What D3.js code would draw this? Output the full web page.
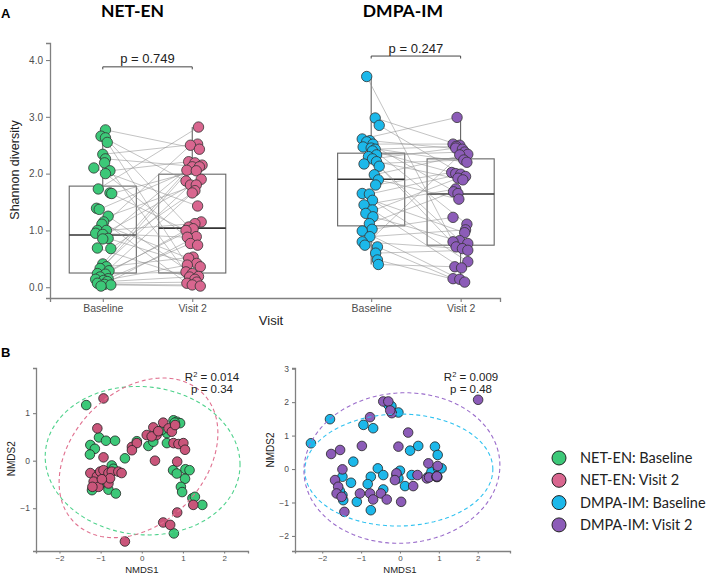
<!DOCTYPE html>
<html>
<head>
<meta charset="utf-8">
<script src="https://cdn.jsdelivr.net/npm/d3@7"></script>
<style>
  body { margin: 0; background: #fff; }
  svg { display: block; }
  .tick text { fill: #4d4d4d; }
</style>
</head>
<body>
<script>
// ---------------- DATA ----------------
const groups = ["NET-EN", "DMPA-IM"];
const visits = ["Baseline", "Visit 2"];
const pValues = ["p = 0.749", "p = 0.247"];
const shannonTicks = [0, 1, 2, 3, 4];

// Shannon diversity values (panel A) and read-off horizontal jitter (category units)
const netBaseShannon = [2.77,2.66,2.63,2.55,2.34,2.26,2.19,2.10,2.05,2.00,1.73,1.66,1.65,1.39,1.37,1.25,1.15,1.11,1.00,1.00,0.95,0.93,0.86,0.85,0.69,0.68,0.41,0.36,0.33,0.29,0.24,0.23,0.18,0.15,0.14,0.12,0.10,0.07,0.05,0.04,0.02];
const netBaseJitter  = [0.03,-0.02,0.03,0.05,0.0,0.03,0.02,-0.10,0.08,0.03,-0.05,0.08,0.10,-0.07,-0.04,0.06,0.01,-0.01,-0.06,0.04,-0.08,0.0,0.06,0.0,-0.06,0.09,0.0,0.04,-0.03,0.07,-0.06,0.03,-0.03,0.06,-0.08,0.01,0.05,-0.06,0.02,0.09,-0.02];
const netV2Shannon   = [2.82,2.52,2.50,2.43,2.21,2.19,2.15,2.12,2.12,2.06,2.05,1.90,1.87,1.80,1.80,1.70,1.66,1.43,1.15,1.12,1.06,1.03,1.00,0.89,0.88,0.77,0.74,0.53,0.51,0.42,0.39,0.36,0.27,0.24,0.19,0.18,0.14,0.09,0.07,0.04,0.02];
const netV2Jitter    = [0.07,0.06,-0.02,0.08,-0.04,0.03,0.11,0.0,0.08,-0.06,0.045,0.10,-0.07,-0.02,0.045,0.03,0.0,0.06,0.10,0.03,-0.04,0.01,-0.07,0.045,-0.055,-0.02,0.06,0.01,-0.04,0.05,-0.055,0.09,-0.07,0.0,0.07,-0.03,0.03,0.05,-0.06,0.0,0.09];
const netPair = [3,12,20,30,1,8,35,17,4,26,0,22,10,33,6,14,38,28,2,19,24,11,31,5,36,16,9,27,13,21,7,32,15,25,18,29,34,37,39,40,23];

const dmpaBaseShannon = [3.71,2.98,2.85,2.61,2.58,2.56,2.52,2.47,2.45,2.43,2.40,2.33,2.30,2.26,2.21,2.17,2.13,1.98,1.89,1.80,1.65,1.64,1.53,1.45,1.36,1.30,1.24,1.12,1.02,0.99,0.89,0.80,0.74,0.71,0.60,0.48,0.40];
const dmpaBaseJitter  = [-0.05,0.045,0.09,-0.10,-0.015,-0.05,0.02,-0.09,0.0,0.045,0.015,0.06,-0.03,0.015,0.06,-0.08,0.09,0.035,0.08,0.05,-0.10,-0.02,0.015,-0.08,0.015,-0.06,0.02,-0.02,0.01,-0.10,-0.015,-0.10,-0.07,0.07,0.05,0.07,0.08];
const dmpaV2Shannon   = [2.99,2.52,2.50,2.48,2.45,2.43,2.38,2.34,2.33,2.24,2.20,2.02,2.00,1.99,1.95,1.92,1.89,1.73,1.68,1.65,1.55,1.23,1.11,1.01,0.96,0.82,0.80,0.77,0.71,0.68,0.65,0.45,0.36,0.34,0.15,0.14,0.09];
const dmpaV2Jitter    = [-0.04,-0.085,-0.01,-0.05,-0.055,0.02,0.045,0.08,-0.01,0.035,0.07,-0.10,-0.055,0.0,0.055,-0.03,0.025,-0.055,-0.08,-0.03,-0.02,-0.085,0.07,0.055,0.045,-0.01,-0.085,0.08,-0.05,0.02,0.08,0.08,-0.065,0.01,-0.085,-0.01,0.045];
const dmpaPair = [26,2,14,0,5,19,1,10,22,3,12,6,25,4,16,9,28,7,20,11,31,13,24,17,33,15,27,18,21,35,23,29,8,34,30,36,32];

// Box statistics: NET Baseline, NET Visit 2, DMPA Baseline, DMPA Visit 2
const boxLow    = [0.02, 0.02, 0.40, 0.09];
const boxQ1     = [0.25, 0.25, 1.08, 0.74];
const boxMedian = [0.92, 1.04, 1.90, 1.64];
const boxQ3     = [1.78, 1.99, 2.36, 2.26];
const boxHigh   = [2.77, 2.82, 3.71, 2.99];
const bracketLevel = [3.88, 4.07];

// NMDS ordination (panel B)  [NMDS1, NMDS2]
const nmdsNetBase = [[-1.35,1.17],[-1.25,0.33],[-1.14,0.25],[-1.26,0.13],[-1.04,0.49],[-0.87,0.42],[-0.65,0.42],[-0.41,0.05],[-0.12,0.41],[0.16,0.31],[-0.73,-0.10],[-0.69,-0.17],[-1.21,-0.62],[-1.01,-0.50],[-0.81,-0.61],[-0.63,-0.69],[-0.93,-0.30],[0.61,0.58],[0.77,0.85],[0.85,0.82],[0.93,0.79],[0.61,0.37],[0.76,-0.20],[0.85,-0.27],[1.06,-0.18],[1.16,-0.20],[1.05,-0.38],[0.95,-0.55],[0.98,-0.66],[1.23,-0.79],[1.29,-0.76],[1.47,-0.93],[0.78,-1.53],[0.49,0.65],[0.28,0.40],[0.80,0.80],[-0.93,-0.44],[-1.10,-0.30]];
const nmdsNetV2   = [[-0.93,1.31],[-1.08,0.68],[-0.93,0.07],[-0.41,-1.70],[0.32,0.0],[0.86,-0.02],[0.86,-1.09],[0.52,-1.30],[0.69,-1.35],[1.25,-0.93],[0.77,0.37],[0.89,0.35],[1.01,0.37],[1.05,0.23],[0.12,0.54],[0.28,0.70],[0.36,0.54],[0.52,0.80],[0.65,0.68],[0.24,0.51],[0.73,0.61],[0.81,0.75],[-0.24,0.29],[-0.12,0.37],[-0.24,0.22],[-1.25,-0.26],[-1.09,-0.33],[-1.17,-0.44],[-1.01,-0.23],[-0.93,-0.20],[-0.81,-0.26],[-0.73,-0.23],[-0.57,-0.23],[-0.49,-0.26],[-0.81,-0.48],[-1.05,-0.55],[-0.77,-0.37],[-0.97,-0.39],[0.40,0.62],[-1.20,-0.55]];
const nmdsDmpaBase = [[-2.29,0.77],[-1.80,1.49],[-0.94,1.32],[-0.69,1.22],[-0.04,1.69],[-0.30,1.92],[-1.20,0.22],[0.26,0.55],[0.47,0.69],[0.90,0.67],[0.97,0.42],[-0.57,0.02],[-0.75,-0.23],[-0.43,-0.18],[-0.83,-0.45],[-0.43,-0.61],[-1.11,-0.98],[-0.75,-1.23],[-1.46,-0.93],[-1.48,-0.78],[-1.26,-0.41],[-1.48,-0.23],[0.0,-0.05],[-0.09,-0.18],[-0.04,-0.28],[0.30,-0.18],[0.13,-0.51],[0.73,-0.23],[0.81,-0.08],[0.98,0.02],[1.07,0.02],[-0.22,1.88],[-1.55,-0.65]];
const nmdsDmpaV2   = [[2.01,2.07],[-0.43,2.02],[-0.30,2.02],[-0.21,1.67],[-0.77,1.55],[0.21,1.09],[-0.98,0.69],[-0.04,0.67],[-1.54,0.57],[-1.77,0.45],[-1.48,-0.01],[0.73,0.17],[0.97,0.09],[-1.67,-0.33],[-1.59,-0.53],[-1.63,-0.73],[-1.50,-0.83],[-1.43,-1.28],[-1.03,-0.73],[-0.77,-0.73],[-0.69,-0.91],[-0.49,-0.73],[-0.34,-0.91],[0.03,-0.98],[0.34,-0.51],[0.45,-0.18],[-0.09,-0.13],[-0.13,-0.33],[0.69,-0.28],[-0.25,1.75],[0.75,-0.25],[0.95,-0.22],[0.94,-0.23],[0.96,-0.23],[0.95,-0.24],[0.95,-0.22]];

// 95% ellipses: centre [x, y], covariance [Sxx, Sxy, Syy]
const ellNetBaseC = [0.02, 0.0],   ellNetBaseS = [5.6, -0.2, 2.44];
const ellNetV2C   = [-0.08, 0.06], ellNetV2S   = [3.72, 1.0, 2.82];
const ellDmpaBaseC = [-0.03, -0.03], ellDmpaBaseS = [5.85, 0.05, 2.8];
const ellDmpaV2C   = [0.05, 0.03],   ellDmpaV2S   = [6.35, 0.2, 5.06];

const permStats = [["0.014", "0.34"], ["0.009", "0.48"]];
const nmdsXTicks = [-2, -1, 0, 1, 2];
const nmdsYTicksL = [-1, 0, 1];
const nmdsYTicksR = [-2, -1, 0, 1, 2, 3];
const legendLabels = ["NET-EN: Baseline", "NET-EN: Visit 2", "DMPA-IM: Baseline", "DMPA-IM: Visit 2"];

// ---------------- STYLE ----------------
const colA = ["#3cc878", "#d9668f", "#1cb8ea", "#8c5cb8"];
const colB = ["#3cc878", "#c9557a", "#1cb8ea", "#8c5cb8"];
const colEll = ["#4fd28c", "#e0708f", "#30c2f0", "#9a6ccb"];
const axisCol = "#808080";
const sans = "'Liberation Sans', Arial, sans-serif";
const lato = "Lato, 'Open Sans', sans-serif";

const svg = d3.select("body").append("svg").attr("width", 708).attr("height", 573);

function styleAxis(g, fs) {
  g.select(".domain").attr("stroke", axisCol).attr("stroke-width", 1.3);
  g.selectAll(".tick line").attr("stroke", axisCol).attr("stroke-width", 1.1);
  g.selectAll(".tick text").attr("font-family", sans).attr("font-size", fs).attr("fill", "#4d4d4d");
}

// ---------------- PANEL A ----------------
const xA = d3.scaleLinear().domain([0.41, 5.44]).range([50, 500]);
const yA = d3.scaleLinear().domain([-0.19, 4.30]).range([298, 43]);
const pos = (g, v) => g * 3 + v + 1;
const boxHalf = 0.375;

svg.append("text").attr("x", 1).attr("y", 18).text("A")
  .attr("font-family", sans).attr("font-weight", "bold").attr("font-size", 13);

groups.forEach((g, i) => {
  svg.append("text").attr("x", xA(pos(i, 0.5)) + (i === 0 ? -15 : -13)).attr("y", 17)
    .attr("text-anchor", "middle").text(g)
    .attr("font-family", lato).attr("font-weight", "bold").attr("font-size", 17.5);
});

const gA = svg.append("g");
// y axis
gA.append("g").attr("transform", `translate(50,0)`)
  .call(d3.axisLeft(yA).tickValues(shannonTicks).tickFormat(d3.format(".1f")).tickSizeOuter(0).tickSize(4).tickPadding(3))
  .call(g => styleAxis(g, 10));
// x axis
const xTickVals = [pos(0,0), pos(0,1), pos(1,0), pos(1,1)];
gA.append("g").attr("transform", `translate(0,298)`)
  .call(d3.axisBottom(xA).tickValues(xTickVals).tickFormat((d, i) => visits[i % 2]).tickSizeOuter(0).tickSize(4).tickPadding(3))
  .call(g => styleAxis(g, 10.5));

gA.append("text").attr("transform", "translate(19,170) rotate(-90)").attr("text-anchor", "middle")
  .text("Shannon diversity").attr("font-family", sans).attr("font-size", 12.5).attr("fill", "#222");
gA.append("text").attr("x", 271).attr("y", 325).attr("text-anchor", "middle")
  .text("Visit").attr("font-family", sans).attr("font-size", 13).attr("fill", "#222");

// boxplots
const boxIdx = [0, 1, 2, 3];
boxIdx.forEach(k => {
  const p = pos(Math.floor(k / 2), k % 2);
  gA.append("line").attr("x1", xA(p)).attr("x2", xA(p)).attr("y1", yA(boxHigh[k])).attr("y2", yA(boxQ3[k]))
    .attr("stroke", "#555").attr("stroke-width", 1);
  gA.append("line").attr("x1", xA(p)).attr("x2", xA(p)).attr("y1", yA(boxQ1[k])).attr("y2", yA(boxLow[k]))
    .attr("stroke", "#555").attr("stroke-width", 1);
  gA.append("rect").attr("x", xA(p - boxHalf)).attr("width", xA(p + boxHalf) - xA(p - boxHalf))
    .attr("y", yA(boxQ3[k])).attr("height", yA(boxQ1[k]) - yA(boxQ3[k]))
    .attr("fill", "none").attr("stroke", "#666").attr("stroke-width", 1.1);
  gA.append("line").attr("x1", xA(p - boxHalf)).attr("x2", xA(p + boxHalf))
    .attr("y1", yA(boxMedian[k])).attr("y2", yA(boxMedian[k]))
    .attr("stroke", "#333").attr("stroke-width", 1.6);
});

// paired lines
function pairLines(g, base, bj, v2, vj, pair) {
  base.forEach((v, i) => {
    const j = pair[i];
    gA.append("line")
      .attr("x1", xA(pos(g, 0) + bj[i])).attr("y1", yA(v))
      .attr("x2", xA(pos(g, 1) + vj[j])).attr("y2", yA(v2[j]))
      .attr("stroke", "#8f8f8f").attr("stroke-width", 0.6).attr("stroke-opacity", 0.9);
  });
}
pairLines(0, netBaseShannon, netBaseJitter, netV2Shannon, netV2Jitter, netPair);
pairLines(1, dmpaBaseShannon, dmpaBaseJitter, dmpaV2Shannon, dmpaV2Jitter, dmpaPair);

function pointsA(g, v, vals, jit, col) {
  gA.append("g").selectAll("circle").data(vals).join("circle")
    .attr("cx", (d, i) => xA(pos(g, v) + jit[i])).attr("cy", d => yA(d)).attr("r", 5.2)
    .attr("fill", col).attr("stroke", "#333").attr("stroke-width", 0.8);
}
pointsA(0, 0, netBaseShannon, netBaseJitter, colA[0]);
pointsA(0, 1, netV2Shannon, netV2Jitter, colA[1]);
pointsA(1, 0, dmpaBaseShannon, dmpaBaseJitter, colA[2]);
pointsA(1, 1, dmpaV2Shannon, dmpaV2Jitter, colA[3]);

// significance brackets
groups.forEach((g, i) => {
  const y = yA(bracketLevel[i]);
  const x1 = xA(pos(i, 0)), x2 = xA(pos(i, 1));
  gA.append("path").attr("d", `M${x1},${y + 2.5}V${y}H${x2}V${y + 2.5}`)
    .attr("fill", "none").attr("stroke", "#444").attr("stroke-width", 1);
  gA.append("text").attr("x", (x1 + x2) / 2).attr("y", y - 3.5).attr("text-anchor", "middle")
    .text(pValues[i]).attr("font-family", sans).attr("font-size", 13).attr("fill", "#222");
});

// ---------------- PANEL B ----------------
svg.append("text").attr("x", 1).attr("y", 357).text("B")
  .attr("font-family", sans).attr("font-weight", "bold").attr("font-size", 13);

function ellipsePath(c, s, xs, ys) {
  const l11 = Math.sqrt(s[0]), l21 = s[1] / l11, l22 = Math.sqrt(s[2] - l21 * l21);
  const ts = d3.range(0, 2 * Math.PI, Math.PI / 90);
  return d3.line().curve(d3.curveLinearClosed)(ts.map(t => [
    xs(c[0] + l11 * Math.cos(t)),
    ys(c[1] + l21 * Math.cos(t) + l22 * Math.sin(t))
  ]));
}

function nmdsPanel(opts) {
  const xs = d3.scaleLinear().domain(opts.xd).range(opts.xr);
  const ys = d3.scaleLinear().domain(opts.yd).range([551, 368]);
  const g = svg.append("g");
  g.append("g").attr("transform", `translate(${opts.xr[0]},0)`)
    .call(d3.axisLeft(ys).tickValues(opts.yt).tickFormat(d3.format("d")).tickSizeOuter(0).tickSize(3).tickPadding(3))
    .call(a => styleAxis(a, 8.5));
  g.append("g").attr("transform", `translate(0,551)`)
    .call(d3.axisBottom(xs).tickValues(nmdsXTicks).tickFormat(d3.format("d")).tickSizeOuter(0).tickSize(2.5).tickPadding(1.5))
    .call(a => styleAxis(a, 8));
  g.append("text").attr("transform", `translate(${opts.xr[0] - 21},${ys(0) - opts.labDy}) rotate(-90)`)
    .attr("text-anchor", "middle").text("NMDS2").attr("font-family", sans).attr("font-size", 10).attr("fill", "#222");
  g.append("text").attr("x", xs(0)).attr("y", 572.5).attr("text-anchor", "middle")
    .text("NMDS1").attr("font-family", sans).attr("font-size", 9.5).attr("fill", "#222");

  opts.sets.forEach((set, k) => {
    g.append("g").selectAll("circle").data(set).join("circle")
      .attr("cx", d => xs(d[0])).attr("cy", d => ys(d[1])).attr("r", 4.8)
      .attr("fill", opts.cols[k]).attr("stroke", "#222").attr("stroke-width", 0.8);
  });
  opts.ells.forEach((e, k) => {
    g.append("path").attr("d", ellipsePath(e[0], e[1], xs, ys))
      .attr("fill", "none").attr("stroke", opts.ecols[k]).attr("stroke-width", 1.1)
      .attr("stroke-dasharray", "4,3");
  });
  const t = g.append("text").attr("x", opts.statX).attr("y", 381).attr("text-anchor", "middle")
    .attr("font-family", sans).attr("font-size", 11.5).attr("fill", "#222");
  t.append("tspan").text("R");
  t.append("tspan").attr("dy", -4.5).attr("font-size", 7.5).text("2");
  t.append("tspan").attr("dy", 4.5).text(" = " + opts.stat[0]);
  g.append("text").attr("x", opts.statX).attr("y", 392.5).attr("text-anchor", "middle")
    .attr("font-family", sans).attr("font-size", 11.5).attr("fill", "#222").text("p = " + opts.stat[1]);
}

nmdsPanel({
  xd: [-2.57, 2.58], xr: [36, 248], yd: [-1.9, 1.95], yt: nmdsYTicksL, labDy: 2,
  sets: [nmdsNetBase, nmdsNetV2], cols: [colB[0], colB[1]],
  ells: [[ellNetBaseC, ellNetBaseS], [ellNetV2C, ellNetV2S]], ecols: [colEll[0], colEll[1]],
  stat: permStats[0], statX: 212
});
nmdsPanel({
  xd: [-2.70, 2.83], xr: [295, 510], yd: [-2.45, 3.02], yt: nmdsYTicksR, labDy: 19,
  sets: [nmdsDmpaBase, nmdsDmpaV2], cols: [colB[2], colB[3]],
  ells: [[ellDmpaBaseC, ellDmpaBaseS], [ellDmpaV2C, ellDmpaV2S]], ecols: [colEll[2], colEll[3]],
  stat: permStats[1], statX: 471
});

// ---------------- LEGEND ----------------
const leg = svg.append("g").attr("transform", "translate(559,458)");
legendLabels.forEach((lab, i) => {
  const y = i * 22.3;
  leg.append("circle").attr("cx", 0).attr("cy", y).attr("r", 7)
    .attr("fill", colA[i]).attr("stroke", "#222").attr("stroke-width", 1);
  leg.append("text").attr("x", 21).attr("y", y + 5).text(lab)
    .attr("font-family", lato).attr("font-size", 14.5).attr("fill", "#222");
});
</script>
</body>
</html>
